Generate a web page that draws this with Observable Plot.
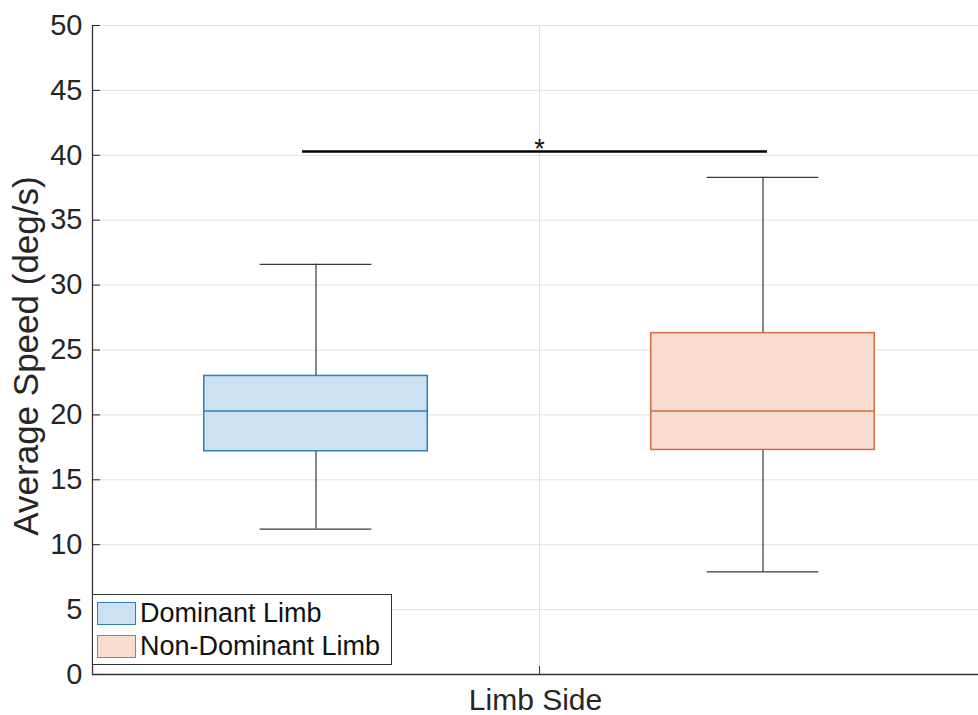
<!DOCTYPE html>
<html>
<head>
<meta charset="utf-8">
<script src="https://cdn.jsdelivr.net/npm/d3@7"></script>
<script src="https://cdn.jsdelivr.net/npm/@observablehq/plot@0.6"></script>
<style>
  body { margin: 0; background: #fff; }
  #fig { position: relative; width: 978px; height: 715px; font-family: "Liberation Sans", Arial, Helvetica, sans-serif; }
  #fig svg { display: block; }
  .legend { position: absolute; left: 92px; top: 594px; width: 300px; height: 71px; box-sizing: border-box;
            border: 1px solid #333; background: #fff; }
  .legend .row { position: absolute; left: 4px; height: 23px; display: flex; align-items: center; }
  .legend .sw { width: 39px; height: 23px; box-sizing: border-box; border: 1.3px solid; margin-right: 4px; }
  .legend .lbl { font-size: 27px; color: #111; line-height: 23px; white-space: nowrap; }
</style>
</head>
<body>
<div id="fig"></div>
<script>
// Summary statistics for each limb group
const groups = ["Dominant Limb", "Non-Dominant Limb"];
const positions = [1, 2];
const whiskerLow = [11.2, 7.9];
const quartile1 = [17.2, 17.3];
const medians = [20.3, 20.3];
const quartile3 = [23.0, 26.3];
const whiskerHigh = [31.6, 38.3];

// Axis ticks
const yTicks = [0, 5, 10, 15, 20, 25, 30, 35, 40, 45, 50];
const xTicks = [1.5];

// Significance bracket between the two groups
const sigSpan = [0.97, 2.01];
const sigLevel = [40.3];
const sigLabel = ["*"];

// Styling
const edgeColors = ["#2f80b3", "#cf6e42"];
const fillColors = ["#cce2f2", "#f8dcd0"];
const whiskerColor = "#3a3a3a";
const axisColor = "#333333";
const textColor = "#262626";
const gridColor = "#e2e2e2";
const boxHalf = 0.25, capHalf = 0.125;

const rows = groups.map((g, i) => ({
  group: g, pos: positions[i], lo: whiskerLow[i], q1: quartile1[i],
  med: medians[i], q3: quartile3[i], hi: whiskerHigh[i],
  edge: edgeColors[i], fill: fillColors[i]
}));

const chart = Plot.plot({
  width: 978,
  height: 715,
  marginLeft: 92,
  marginTop: 25,
  marginBottom: 41,
  marginRight: 0,
  style: { fontFamily: '"Liberation Sans", Arial, Helvetica, sans-serif', background: "white", overflow: "visible" },
  x: { domain: [0.5, 2.5], range: [92, 986] },
  y: { domain: [0, 50], range: [674, 25] },
  color: { type: "identity" },
  marks: [
    Plot.gridY(yTicks, { stroke: gridColor, strokeOpacity: 1 }),
    Plot.gridX(xTicks, { stroke: gridColor, strokeOpacity: 1 }),
    // whiskers and caps
    Plot.ruleX(rows, { x: "pos", y1: "q3", y2: "hi", stroke: whiskerColor, strokeWidth: 1.2 }),
    Plot.ruleX(rows, { x: "pos", y1: "lo", y2: "q1", stroke: whiskerColor, strokeWidth: 1.2 }),
    Plot.ruleY(rows, { y: "hi", x1: d => d.pos - capHalf, x2: d => d.pos + capHalf, stroke: whiskerColor, strokeWidth: 1.2 }),
    Plot.ruleY(rows, { y: "lo", x1: d => d.pos - capHalf, x2: d => d.pos + capHalf, stroke: whiskerColor, strokeWidth: 1.2 }),
    // interquartile boxes and medians
    Plot.rect(rows, { x1: d => d.pos - boxHalf, x2: d => d.pos + boxHalf, y1: "q1", y2: "q3",
                      fill: "fill", stroke: "edge", strokeWidth: 1.5 }),
    Plot.ruleY(rows, { y: "med", x1: d => d.pos - boxHalf, x2: d => d.pos + boxHalf, stroke: "edge", strokeWidth: 1.5 }),
    // significance bracket
    Plot.ruleY(sigLevel, { y: d => d, x1: sigSpan[0], x2: sigSpan[1], stroke: "black", strokeWidth: 2.5 }),
    Plot.text(sigLabel, { x: d3.mean(xTicks), y: sigLevel[0], text: d => d, lineAnchor: "bottom", dy: 7,
                          fontSize: 27, fill: "#111" }),
    // axes
    Plot.ruleX([0.5], { stroke: axisColor, strokeWidth: 1.3 }),
    Plot.ruleY([0], { stroke: axisColor, strokeWidth: 1.5 }),
    Plot.axisY(yTicks, { tickSize: -8, tickPadding: 18, fontSize: 29, color: textColor, label: null }),
    Plot.axisX(xTicks, { tickSize: -8, tickFormat: () => "", color: axisColor, label: null }),
    Plot.text(["Limb Side"], { frameAnchor: "bottom", dy: 26, text: d => d, fontSize: 30,
                               lineAnchor: "middle", fill: textColor }),
    Plot.text(["Average Speed (deg/s)"], { frameAnchor: "left", dx: -66, dy: 6, rotate: -90, text: d => d,
                                           fontSize: 35, textAnchor: "middle", lineAnchor: "middle", fill: textColor })
  ]
});

const fig = document.getElementById("fig");
fig.appendChild(chart);

// Legend drawn inside the axes, lower left
const legend = document.createElement("div");
legend.className = "legend";
groups.forEach((g, i) => {
  const row = document.createElement("div");
  row.className = "row";
  row.style.top = (7 + i * 33) + "px";
  const sw = document.createElement("div");
  sw.className = "sw";
  sw.style.background = fillColors[i];
  sw.style.borderColor = edgeColors[i];
  const lbl = document.createElement("span");
  lbl.className = "lbl";
  lbl.textContent = g;
  row.appendChild(sw);
  row.appendChild(lbl);
  legend.appendChild(row);
});
fig.appendChild(legend);
</script>
</body>
</html>
